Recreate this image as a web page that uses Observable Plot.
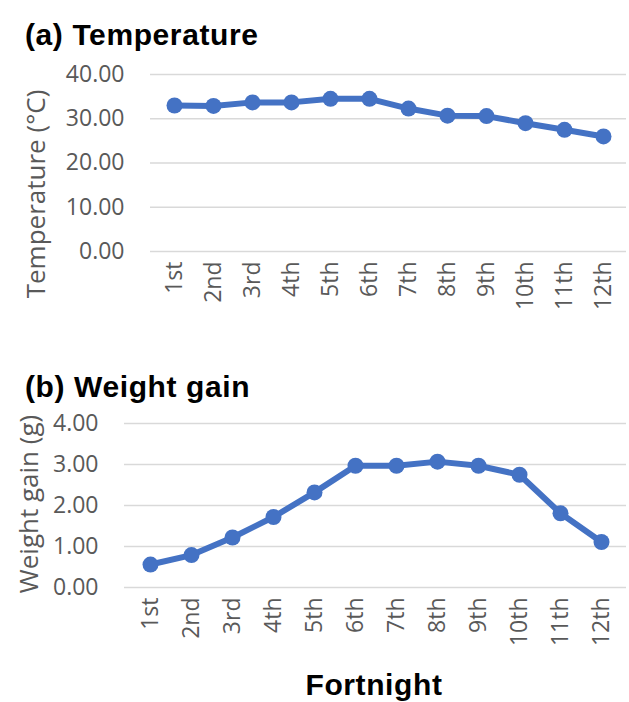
<!DOCTYPE html>
<html>
<head>
<meta charset="utf-8">
<script src="https://cdn.jsdelivr.net/npm/d3@7"></script>
<script src="https://cdn.jsdelivr.net/npm/@observablehq/plot@0.6"></script>
<style>
  html, body { margin: 0; padding: 0; background: #fff; }
  #wrap { position: relative; width: 629px; height: 702px; overflow: hidden; background: #fff; }
  .title { position: absolute; font-family: "Liberation Sans", Arial, sans-serif; font-weight: bold; color: #000; white-space: nowrap; line-height: 1; letter-spacing: 0.6px; }
  .ylab { position: absolute; font-family: "Open Sans", sans-serif; font-size: 26px; color: #595959; white-space: nowrap; line-height: 1;
          transform: translate(-50%, -50%) rotate(-90deg); }
  .chart { position: absolute; left: 0; }
</style>
</head>
<body>
<div id="wrap">
  <div class="title" style="left:25px; top:20px; font-size:30px;">(a) Temperature</div>
  <div class="ylab" style="left:35px; top:194px;">Temperature (°C)</div>
  <div class="chart" id="chartA" style="top:55px;"></div>
  <div class="title" style="left:25px; top:372px; font-size:30px;">(b) Weight gain</div>
  <div class="ylab" style="left:28px; top:504px;">Weight gain (g)</div>
  <div class="chart" id="chartB" style="top:400px;"></div>
  <div class="title" style="left:374px; top:670px; font-size:30px; transform: translateX(-50%);">Fortnight</div>
</div>
<script>
const fortnights = ["1st", "2nd", "3rd", "4th", "5th", "6th", "7th", "8th", "9th", "10th", "11th", "12th"];
const temperature = [33.0, 32.9, 33.7, 33.7, 34.5, 34.5, 32.3, 30.7, 30.6, 29.0, 27.5, 26.0];
const weightGain = [0.56, 0.79, 1.22, 1.72, 2.32, 2.97, 2.97, 3.07, 2.97, 2.75, 1.81, 1.11];
const tempTicks = [0, 10, 20, 30, 40];
const gainTicks = [0, 1, 2, 3, 4];

const blue = "#4472C4";

function makeChart(values, ticks, opts) {
  const data = fortnights.map((f, i) => ({fortnight: f, value: values[i]}));
  return Plot.plot({
    width: 629,
    height: opts.height,
    marginTop: opts.marginTop,
    marginBottom: opts.marginBottom,
    marginLeft: opts.marginLeft,
    marginRight: 3,
    style: {fontFamily: "'Open Sans', sans-serif", fontSize: "23px", color: "#595959", background: "transparent", overflow: "visible"},
    x: {type: "point", domain: fortnights, padding: 0.5, label: null, tickSize: 0, tickPadding: 10, tickRotate: -90},
    y: {domain: [ticks[0], ticks[ticks.length - 1]], ticks: ticks, tickFormat: d => d.toFixed(2), label: null, tickSize: 0, tickPadding: 26},
    marks: [
      Plot.gridY(ticks, {stroke: "#d9d9d9", strokeOpacity: 1, strokeWidth: 1.5}),
      Plot.line(data, {x: "fortnight", y: "value", stroke: blue, strokeWidth: 6, strokeLinejoin: "round"}),
      Plot.dot(data, {x: "fortnight", y: "value", r: 8, fill: blue, stroke: "none"})
    ]
  });
}

document.getElementById("chartA").appendChild(
  makeChart(temperature, tempTicks, {height: 280, marginTop: 19, marginBottom: 84, marginLeft: 150})
);
document.getElementById("chartB").appendChild(
  makeChart(weightGain, gainTicks, {height: 257, marginTop: 23, marginBottom: 70, marginLeft: 124})
);
</script>
</body>
</html>
